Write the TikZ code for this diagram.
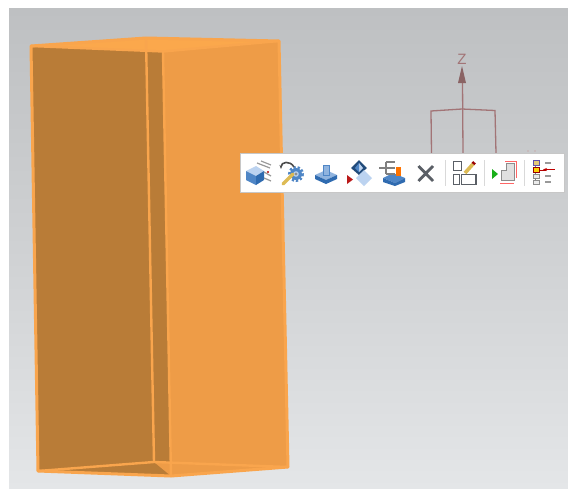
\documentclass[tikz,border=0pt]{standalone}
\usepackage{fontspec}
\setmainfont{Liberation Sans}
\usetikzlibrary{arrows.meta}
\definecolor{darkface}{HTML}{B97C37}
\definecolor{lightface}{HTML}{EE9C47}
\definecolor{topface}{HTML}{FBA84C}
\definecolor{boxedge}{HTML}{F9A54D}
\definecolor{axisred}{HTML}{A27476}
\definecolor{iconblue}{HTML}{4F86C6}
\definecolor{icondark}{HTML}{2F6BB0}
\definecolor{iconlight}{HTML}{BCD3F0}
\definecolor{icongrey}{HTML}{5A5F66}
\definecolor{iconyellow}{HTML}{DDBB55}
\definecolor{bgtop}{HTML}{BEC0C2}
\definecolor{bgmid}{HTML}{CFD1D3}
\definecolor{bgbot}{HTML}{E4E6E8}
\tikzset{
  edge/.style={draw=boxedge,line width=3pt,line join=round,line cap=round},
  inneredge/.style={draw=boxedge,line width=2.4pt,line join=round,line cap=round},
  frameline/.style={draw=axisred,line width=1.3pt},
  ico/.style={draw=icongrey,line width=1.2pt},
  sep/.style={draw=black!15,line width=1pt},
}
\begin{document}
\begin{tikzpicture}[x=1pt,y=-1pt]
\useasboundingbox (0,0) rectangle (568,488);
\fill[white] (0,0) rectangle (568,488);
\fill[top color=bgtop,bottom color=bgbot,middle color=bgmid] (9,8) rectangle (568,488);
% axes
\draw[frameline] (431.5,153) -- (431,111) -- (462,109) -- (495,110.5) -- (496,153);
\draw[frameline] (462.5,80) -- (463,153);
\fill[axisred!85!black] (462,66) -- (458,83) -- (466,83) -- cycle;
\node[text=axisred,font=\fontsize{15}{15}\selectfont,inner sep=0pt] (zlabel) at (462,59) {Z};
\fill[axisred!60!white] (528,151) circle (.8) (535,151) circle (.8);
% box faces
\fill[darkface] (31,46) -- (163,52) -- (171,476) -- (38,471) -- cycle;
\fill[lightface] (163,50) -- (279,41) -- (288,467) -- (171,476) -- cycle;
\fill[topface] (31,46) -- (146,38) -- (279,41) -- (163,52) -- cycle;
\fill[darkface] (38,471) -- (154,462) -- (171,463) -- (171,476) -- cycle;
\fill[lightface] (154,462) -- (288,467) -- (171,476) -- cycle;
% box edges
\draw[edge] (31,46) -- (146,38) -- (279,41) -- (288,467) -- (171,476) -- (38,471) -- cycle;
\draw[inneredge] (31,46) -- (163,51.5) -- (279,41);
\draw[inneredge] (163,51.5) -- (171,476);
\draw[inneredge] (146,38) -- (154,462);
\draw[inneredge] (38,471) -- (154,462) -- (288,467);
% toolbar
\draw[draw=black!22,fill=white,line width=1pt] (240,153.5) rectangle (564,192.5);
\draw[sep] (445,160) -- (445,186);
\draw[sep] (484.5,160) -- (484.5,186);
\draw[sep] (524,160) -- (524,186);
% icon 1: cube
\fill[iconlight] (246,171) -- (256,166) -- (264,171) -- (256,176) -- cycle;
\fill[iconblue] (246,171) -- (256,176) -- (256,185) -- (246,180) -- cycle;
\fill[icondark] (256,176) -- (264,171) -- (264,180) -- (256,185) -- cycle;
\draw[draw=black!40,line width=1.2pt] (257,163) -- (270,168) (261,161) -- (271,165) (264,172) -- (271,176) (264,178) -- (271,181);
\fill[red!70!black] (268,172) circle (1.2);
% icon 2: wrench and gear
\draw[draw=iconblue,line width=3pt,dash pattern=on 2.2pt off 1.8pt] (296,174) circle (6.5);
\fill[iconblue] (296,174) circle (6);
\fill[iconlight] (296,174) circle (2.8);
\fill[icongrey!70] (296,174) circle (1.6);
\draw[draw=iconyellow,line width=3.4pt,line cap=round] (293,174) -- (283,184);
\draw[draw=black!70,line width=1.6pt,-{Stealth[length=4pt]}] (294,167) .. controls (290,160) and (281,162) .. (281,169);
% icon 3: block with boss
\fill[iconlight!60!iconblue] (315,175) -- (326,170) -- (337,175) -- (326,180) -- cycle;
\fill[icondark] (315,175) -- (326,180) -- (337,175) -- (337,179) -- (326,184) -- (315,179) -- cycle;
\fill[iconlight!60!iconblue] (323,165) rectangle (329.5,175);
\draw[draw=iconblue,line width=.9pt] (323,165) rectangle (329.5,175);
% icon 4: diamonds
\fill[icondark!70!black] (359,160) -- (367,168) -- (359,175) -- (351,168) -- cycle;
\fill[iconlight] (359,163) -- (363,168) -- (359,172) -- cycle;
\fill[iconblue] (359,163) -- (355,168) -- (359,172) -- cycle;
\fill[iconlight] (364,170) -- (372,178) -- (364,186) -- (356,178) -- cycle;
\fill[red!70!black!90!white] (347,175) -- (353,179.5) -- (347,184) -- cycle;
% icon 5: feature on block
\fill[iconblue] (383,178) -- (393,173) -- (405,178) -- (395,183) -- cycle;
\fill[icondark] (383,178) -- (395,183) -- (405,178) -- (405,182) -- (395,186) -- (383,182) -- cycle;
\fill[orange!90!red] (396,167) rectangle (401,176);
\draw[draw=black!50,line width=1.4pt] (379,168) -- (395,168) (386,162) -- (395,162) (386,174) -- (395,174) (386,162) -- (386,174);
% icon 6: cross
\draw[draw=icongrey,line width=2.8pt] (418.5,166) -- (433,181) (433,166) -- (418.5,181);
% icon 7: layout with pencil
\draw[ico] (453.5,161.5) rectangle (461.5,170.5);
\draw[ico] (453.5,174.5) rectangle (459.5,184.5);
\draw[ico] (461.5,174.5) rectangle (476,184.5);
\draw[draw=iconyellow,line width=3.6pt] (465,173) -- (473,164);
\draw[draw=red!60!black,line width=3.6pt] (473,164) -- (474.5,162.3);
% icon 8: play and stepped shape
\fill[green!65!black!90!white] (492,169) -- (498,174) -- (492,179) -- cycle;
\fill[black!12,draw=black!45,line width=1pt] (501,180) -- (501,170) -- (506,170) -- (506,163) -- (514,163) -- (514,180) -- cycle;
\draw[draw=red!60,line width=.8pt] (500,183) -- (514,183) (516,162) -- (516,178) (505,161) -- (517,161);
% icon 9: tree
\draw[draw=black!50,line width=1pt] (535,164) -- (535,182);
\draw[draw=red!70!black,line width=1pt] (535,170) -- (546,170);
\draw[draw=black!50,line width=1pt] (535,176) -- (538,176) (535,182) -- (538,182);
\fill[iconyellow!80,draw=iconblue!60!violet,line width=1pt] (533.5,160.5) rectangle (539,165);
\fill[yellow!70!orange,draw=red!60!black,line width=1pt] (533.5,167.5) rectangle (539,172);
\fill[black!8,draw=black!45,line width=.9pt] (533.5,174) rectangle (539,178);
\fill[black!8,draw=black!45,line width=.9pt] (533.5,180) rectangle (539,184);
\draw[draw=black!40,line width=1.1pt] (545,163) -- (551,163) (545,176) -- (551,176) (545,182) -- (551,182);
\draw[draw=red!75!black,line width=1.2pt,{Stealth[length=4pt]}-] (543,169.5) -- (555,169.5);
\end{tikzpicture}
\end{document}
